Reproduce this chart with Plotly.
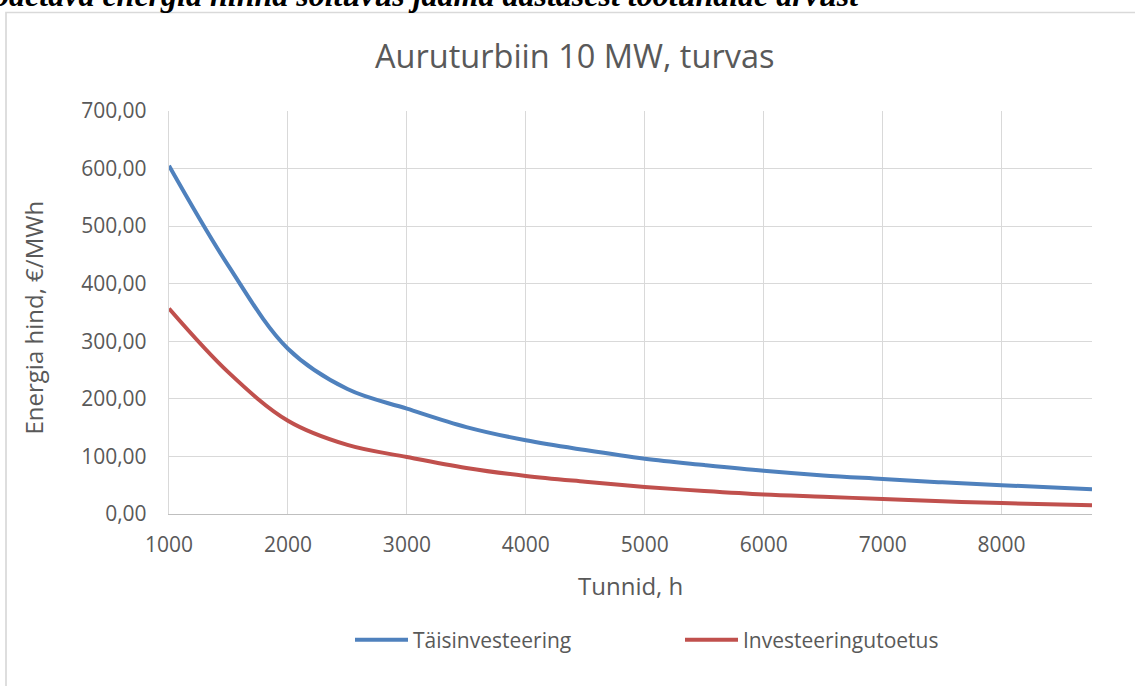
import plotly.graph_objects as go

# Annual operating hours and the resulting energy price (EUR/MWh)
hours = [1000, 1500, 2000, 2500, 3000, 3500, 4000, 4500, 5000, 5500,
         6000, 6500, 7000, 7500, 8000, 8760]
full_investment = [605, 431, 287, 217, 183, 151, 128, 111, 96, 85,
                   75, 67, 61, 55, 50, 43]
investment_support = [357, 246, 162, 120, 99, 80, 66, 56, 47, 40,
                      34, 30, 26, 22, 19, 15]

series_names = ["Täisinvesteering", "Investeeringutoetus"]
x_ticks = [1000, 2000, 3000, 4000, 5000, 6000, 7000, 8000]
y_ticks = [0, 100, 200, 300, 400, 500, 600, 700]

chart_title = "Auruturbiin 10 MW, turvas"
x_title = "Tunnid, h"
y_title = "Energia hind, €/MWh"
caption = "Oodetava energia hinna sõltuvus jaama aastasest töötundide arvust"

W, H = 1135, 686
L, R, T, B = 169, 43, 111, 172
PW, PH = W - L - R, H - T - B


def px_x(px):
    return (px - L) / PW


def px_y(py):
    return (H - B - py) / PH


TEXT = "#595959"
GRID = "#D9D9D9"
FONT = "Open Sans"

fig = go.Figure()
fig.add_trace(go.Scatter(
    x=hours, y=full_investment, name=series_names[0], mode="lines",
    line=dict(color="#4F81BD", width=4, shape="spline", smoothing=1.0),
))
fig.add_trace(go.Scatter(
    x=hours, y=investment_support, name=series_names[1], mode="lines",
    line=dict(color="#C0504D", width=4, shape="spline", smoothing=1.0),
))

fig.update_layout(
    width=W, height=H, autosize=False,
    margin=dict(l=L, r=R, t=T, b=B, pad=0),
    paper_bgcolor="white", plot_bgcolor="white",
    separators=", ",
    font=dict(family=FONT, color=TEXT, size=21),
    showlegend=True,
    legend=dict(
        orientation="h", x=px_x(350), y=px_y(640),
        xanchor="left", yanchor="middle",
        font=dict(family=FONT, size=21, color=TEXT),
        itemwidth=53, entrywidth=262, entrywidthmode="pixels",
        bgcolor="rgba(0,0,0,0)", borderwidth=0,
        tracegroupgap=0,
    ),
    xaxis=dict(
        range=[1000, 8760], tickvals=x_ticks, tickformat="d",
        showgrid=True, gridcolor=GRID, gridwidth=1.3,
        showline=True, linecolor="#BFBFBF", linewidth=1.3,
        zeroline=False, ticks="", ticklabelstandoff=12,
        tickfont=dict(family=FONT, size=21, color=TEXT),
    ),
    yaxis=dict(
        range=[0, 700], tickvals=y_ticks, tickformat=".2f",
        showgrid=True, gridcolor=GRID, gridwidth=1.3,
        showline=True, linecolor=GRID, linewidth=1.3,
        zeroline=False, ticks="", ticklabelstandoff=17,
        tickfont=dict(family=FONT, size=21, color=TEXT),
    ),
)

# Outer chart frame
fig.add_shape(type="rect", xref="paper", yref="paper",
              x0=px_x(6), x1=px_x(1400), y0=px_y(1000), y1=px_y(12.5),
              line=dict(color=GRID, width=1.7), fillcolor="rgba(0,0,0,0)",
              layer="above")

fig.add_annotation(text=chart_title, xref="paper", yref="paper",
                   x=px_x(574.5), y=px_y(55.5), xanchor="center", yanchor="middle",
                   showarrow=False, font=dict(family=FONT, size=32.5, color=TEXT))
fig.add_annotation(text=x_title, xref="paper", yref="paper",
                   x=px_x(630.5), y=px_y(585), xanchor="center", yanchor="middle",
                   showarrow=False, font=dict(family=FONT, size=24, color=TEXT))
fig.add_annotation(text=y_title, xref="paper", yref="paper",
                   x=px_x(33), y=px_y(317.5), xanchor="center", yanchor="middle",
                   textangle=-90, showarrow=False,
                   font=dict(family=FONT, size=24, color=TEXT))
fig.add_annotation(text=caption, xref="paper", yref="paper",
                   x=px_x(861), y=px_y(15), xanchor="right", yanchor="bottom",
                   showarrow=False,
                   font=dict(family="Liberation Serif", size=32, color="black",
                             weight="bold", style="italic"))

fig.write_html("out.html")
